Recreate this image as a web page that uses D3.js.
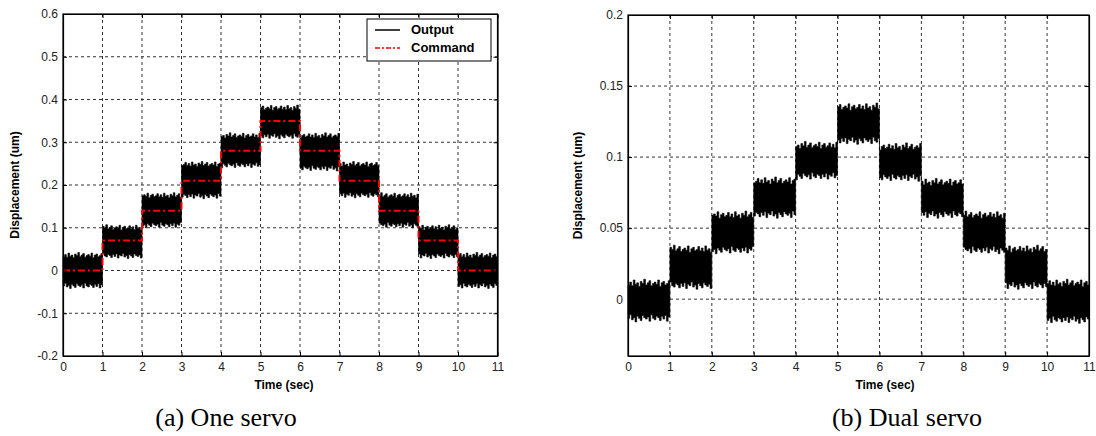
<!DOCTYPE html>
<html>
<head>
<meta charset="utf-8">
<script src="https://cdn.jsdelivr.net/npm/d3@7"></script>
<style>
  body { margin: 0; background: #fff; }
  svg text { font-family: 'Liberation Sans', Arial, sans-serif; }
  .tick text { font-size: 12px; fill: #222; }
  .axis-label { font-size: 12px; font-weight: bold; }
  .caption { font-family: 'Liberation Serif', 'Times New Roman', serif !important; font-size: 26px; }
</style>
</head>
<body>
<div id="chart"></div>
<script>
// time ticks (sec)
const timeTicks = [0, 1, 2, 3, 4, 5, 6, 7, 8, 9, 10, 11]

// (a) one servo: command level and output band per 1 s step
const oneCommand = [0, 0.07, 0.14, 0.21, 0.28, 0.35, 0.28, 0.21, 0.14, 0.07, 0]
const oneTop = [0.030, 0.095, 0.170, 0.243, 0.310, 0.375, 0.310, 0.243, 0.170, 0.095, 0.030]
const oneBottom = [-0.030, 0.040, 0.112, 0.180, 0.252, 0.320, 0.245, 0.182, 0.112, 0.040, -0.030]
const oneYTicks = [0.6, 0.5, 0.4, 0.3, 0.2, 0.1, 0, -0.1, -0.2]
const oneYLabels = ['0.6', '0.5', '0.4', '0.3', '0.2', '0.1', '0', '-0.1', '-0.2']

// (b) dual servo: output band per 1 s step
const dualTop = [0.009, 0.033, 0.057, 0.081, 0.106, 0.133, 0.105, 0.080, 0.057, 0.033, 0.009]
const dualBottom = [-0.011, 0.012, 0.037, 0.062, 0.089, 0.114, 0.088, 0.062, 0.037, 0.012, -0.012]
const dualYTicks = [0.2, 0.15, 0.1, 0.05, 0]
const dualYLabels = ['0.2', '0.15', '0.1', '0.05', '0']

// hand read roughness of the band edges (fraction of spike height)
const edgeRough = [0.2, 0.6, 0.1, 0.9, 0.3, 0.5, 0.0, 0.7, 0.4, 1.0, 0.2, 0.5,
  0.8, 0.1, 0.4, 0.6, 0.3, 0.9, 0.0, 0.5, 0.7, 0.2, 0.4, 0.8]

const legendItems = ['Output', 'Command']

const svg = d3
  .select('#chart')
  .append('svg')
  .attr('width', 1096)
  .attr('height', 436)

function bandPoints(tops, bottoms, amp) {
  const n = edgeRough.length
  const pts = []
  tops.forEach((t, i) => {
    for (let j = 0; j < n; j++) {
      pts.push({
        t: i + j / n,
        hi: t + amp * edgeRough[(j + 7 * i) % n],
        lo: bottoms[i] - amp * edgeRough[(j + 13 * i + 5) % n]
      })
    }
  })
  const last = pts[pts.length - 1]
  pts.push({ t: tops.length, hi: last.hi, lo: last.lo })
  return pts
}

function drawPanel(opts) {
  const g = svg.append('g').attr('transform', `translate(${opts.left},${opts.top})`)
  const width = opts.width
  const height = opts.height

  const xScale = d3.scaleLinear().domain([0, 11]).range([0, width])
  const yScale = d3.scaleLinear().domain(opts.yDomain).range([height, 0])

  // grid
  g.selectAll('.vgrid')
    .data(timeTicks.slice(1, -1))
    .enter()
    .append('line')
    .attr('x1', d => xScale(d))
    .attr('x2', d => xScale(d))
    .attr('y1', 0)
    .attr('y2', height)
    .attr('stroke', '#333')
    .attr('stroke-dasharray', '3,3')
  g.selectAll('.hgrid')
    .data(opts.yTicks.filter(d => d !== opts.yDomain[0] && d !== opts.yDomain[1]))
    .enter()
    .append('line')
    .attr('x1', 0)
    .attr('x2', width)
    .attr('y1', d => yScale(d))
    .attr('y2', d => yScale(d))
    .attr('stroke', '#333')
    .attr('stroke-dasharray', '3,3')

  // output band
  const area = d3
    .area()
    .x(d => xScale(d.t))
    .y0(d => yScale(d.lo))
    .y1(d => yScale(d.hi))
    .curve(d3.curveStepAfter)
  g.append('path')
    .datum(bandPoints(opts.tops, opts.bottoms, opts.amp))
    .attr('d', area)
    .attr('fill', '#000')
    .attr('stroke', '#000')
    .attr('stroke-width', 0.6)

  // command
  if (opts.command) {
    const cmd = opts.command.map((v, i) => ({ t: i, v: v }))
    cmd.push({ t: opts.command.length, v: opts.command[opts.command.length - 1] })
    const line = d3
      .line()
      .x(d => xScale(d.t))
      .y(d => yScale(d.v))
      .curve(d3.curveStepAfter)
    g.append('path')
      .datum(cmd)
      .attr('d', line)
      .attr('fill', 'none')
      .attr('stroke', '#ff0000')
      .attr('stroke-width', 2)
      .attr('stroke-dasharray', '7,3,2,3')
  }

  // axes (matlab style, ticks inside on all sides)
  const xAxis = d3.axisBottom(xScale).tickValues(timeTicks).tickSizeInner(-4).tickSizeOuter(0).tickPadding(6).tickFormat(d3.format('d'))
  g.append('g').attr('transform', `translate(0,${height})`).call(xAxis)
  g.append('g').call(d3.axisTop(xScale).tickValues(timeTicks).tickSizeInner(-4).tickSizeOuter(0).tickFormat(''))

  const yAxis = d3
    .axisLeft(yScale)
    .tickValues(opts.yTicks)
    .tickSizeInner(-4)
    .tickSizeOuter(0)
    .tickPadding(5)
    .tickFormat((d, i) => opts.yLabels[i])
  g.append('g').call(yAxis)
  g.append('g').attr('transform', `translate(${width},0)`).call(d3.axisRight(yScale).tickValues(opts.yTicks).tickSizeInner(-4).tickSizeOuter(0).tickFormat(''))

  g.selectAll('.domain').attr('stroke', '#000').attr('stroke-width', 1.2)
  g.selectAll('.tick line').attr('stroke', '#000')

  g.append('rect')
    .attr('width', width)
    .attr('height', height)
    .attr('fill', 'none')
    .attr('stroke', '#000')
    .attr('stroke-width', 1.2)

  g.append('text')
    .attr('class', 'axis-label')
    .attr('x', opts.xLabelX)
    .attr('y', height + 33)
    .attr('text-anchor', 'middle')
    .text('Time (sec)')

  g.append('text')
    .attr('class', 'axis-label')
    .attr('text-anchor', 'middle')
    .attr('transform', `translate(${opts.yLabelX},${height / 2}) rotate(-90)`)
    .text('Displacement (um)')

  g.append('text')
    .attr('class', 'caption')
    .attr('x', opts.captionX)
    .attr('y', height + 70)
    .attr('text-anchor', 'middle')
    .text(opts.caption)

  return g
}

const left = drawPanel({
  left: 63, top: 14, width: 434.5, height: 342,
  yDomain: [-0.2, 0.6], yTicks: oneYTicks, yLabels: oneYLabels,
  tops: oneTop, bottoms: oneBottom, amp: 0.012, command: oneCommand,
  xLabelX: 221, yLabelX: -44, captionX: 163, caption: '(a) One servo'
})

drawPanel({
  left: 628, top: 15, width: 461, height: 341,
  yDomain: [-0.04, 0.2], yTicks: dualYTicks, yLabels: dualYLabels,
  tops: dualTop, bottoms: dualBottom, amp: 0.005, command: null,
  xLabelX: 257, yLabelX: -46, captionX: 279, caption: '(b) Dual servo'
})

// legend (a)
const legend = left.append('g').attr('transform', 'translate(304,5)')
legend.append('rect')
  .attr('width', 124)
  .attr('height', 42)
  .attr('fill', '#fff')
  .attr('stroke', '#000')
legend.selectAll('.leg-line')
  .data(legendItems)
  .enter()
  .append('line')
  .attr('x1', 8)
  .attr('x2', 33)
  .attr('y1', (d, i) => 11 + i * 18)
  .attr('y2', (d, i) => 11 + i * 18)
  .attr('stroke', (d, i) => (i === 0 ? '#000' : '#ff0000'))
  .attr('stroke-width', 1.5)
  .attr('stroke-dasharray', (d, i) => (i === 0 ? null : '5,2,2,2'))
legend.selectAll('.leg-text')
  .data(legendItems)
  .enter()
  .append('text')
  .attr('x', 44)
  .attr('y', (d, i) => 15 + i * 18)
  .attr('font-size', '13px')
  .attr('font-weight', 'bold')
  .text(d => d)
</script>
</body>
</html>
